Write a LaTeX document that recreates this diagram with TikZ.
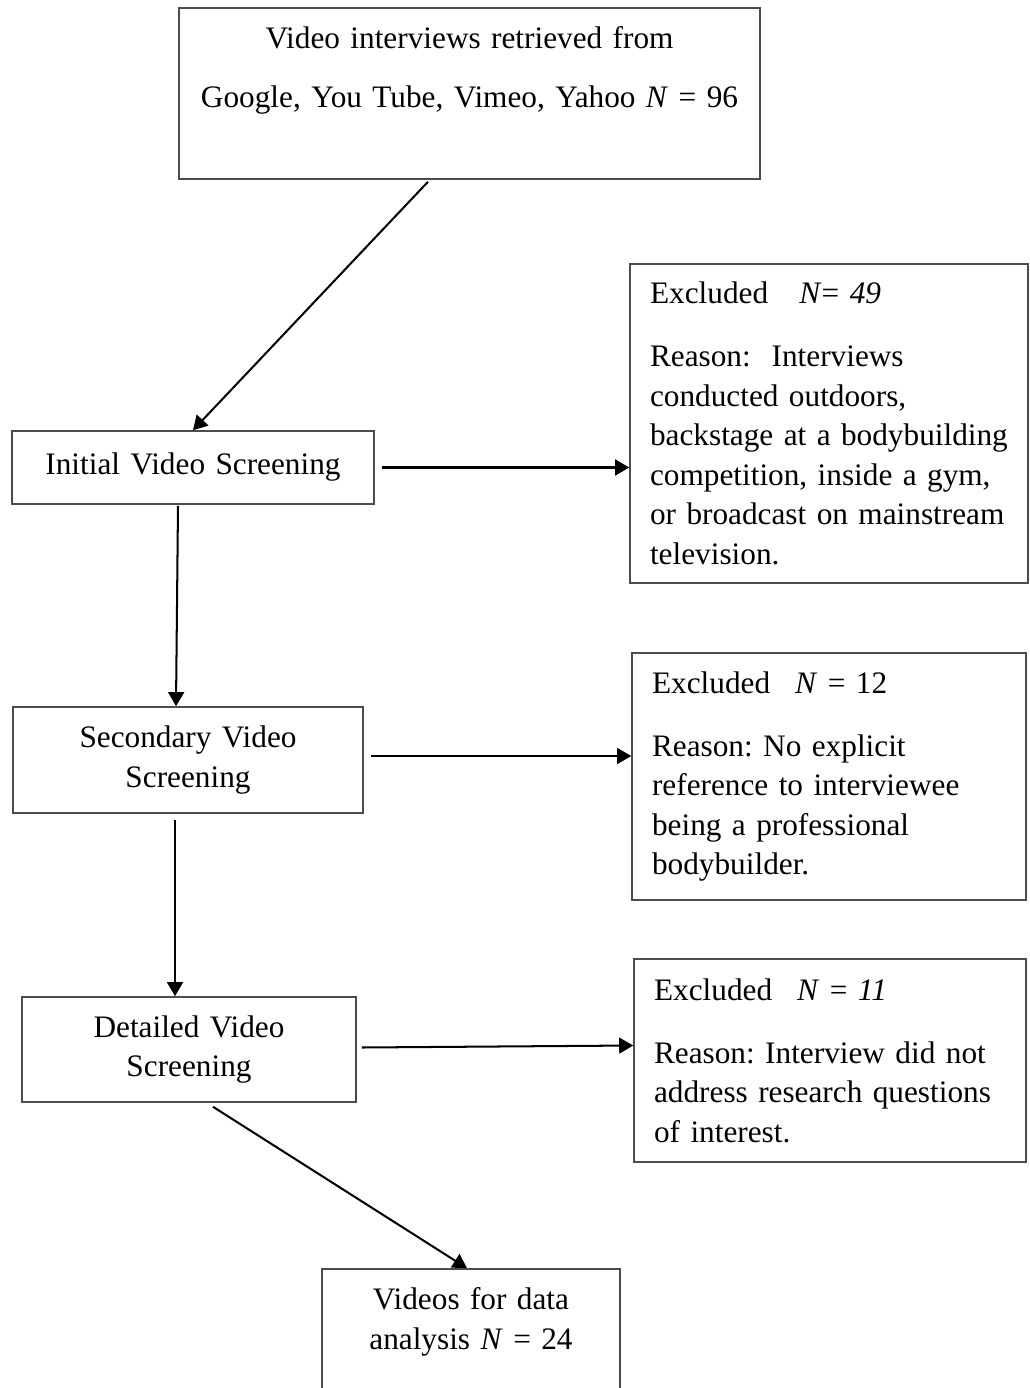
\documentclass[tikz,border=0pt]{standalone}
\usepackage{fontspec}
\setmainfont{Liberation Serif}
\usetikzlibrary{arrows.meta,calc}
\newcommand{\flowfont}{\fontsize{17.8pt}{22.5pt}\selectfont\frenchspacing}
\tikzset{
  box/.style={draw=black!70,line width=0.9pt,inner sep=0pt,align=center,font=\flowfont},
  excluded/.style={box,align=left,inner xsep=0.4cm},
  flow/.style={-{Triangle[length=8pt,width=9pt]},line width=1.15pt},
}
\begin{document}
\begin{tikzpicture}[x=0.02cm,y=-0.02cm]
  \path[use as bounding box] (0,0) rectangle (1029,1388);

  % main column
  \node[box,text width=11.62cm,minimum height=3.42cm,font=\fontsize{17.8pt}{33.6pt}\selectfont] (top) at (469.5,93.5)
    {Video interviews retrieved from\\Google, You Tube, Vimeo, Yahoo \textit{N} = 96\\[-0.48cm]\strut};
  \node[box,text width=7.24cm,minimum height=1.46cm] (init) at (193,467.5)
    {Initial Video Screening};
  \node[box,text width=7.0cm,minimum height=2.12cm] (sec) at (188,760)
    {Secondary Video\\Screening};
  \node[box,text width=6.68cm,minimum height=2.10cm] (det) at (189,1049.5)
    {Detailed Video\\Screening};
  \node[box,text width=5.96cm,minimum height=2.82cm] (fin) at (471,1339.5)
    {Videos for data\\analysis \textit{N} = 24\\[-0.18cm]\strut};

  % exclusions
  \node[excluded,text width=7.16cm,minimum height=6.38cm] (exc1) at (829,423.5)
    {Excluded\hspace{1em}\textit{N}= \textit{49}\\[0.47cm]
     Reason:\ \ Interviews\\conducted outdoors,\\\mbox{backstage at a bodybuilding}\\
     competition, inside a gym,\\\mbox{or broadcast on mainstream}\\television.};
  \node[excluded,text width=7.08cm,minimum height=4.94cm] (exc2) at (829,776.5)
    {Excluded\hspace{0.8em}\textit{N} = 12\\[0.47cm]
     Reason: No explicit\\reference to interviewee\\being a professional\\bodybuilder.};
  \node[excluded,text width=7.04cm,minimum height=4.06cm] (exc3) at (830,1060.5)
    {Excluded\hspace{0.8em}\textit{N} = \textit{11}\\[0.47cm]
     Reason: Interview did not\\address research questions\\of interest.};

  \draw[flow] ($(top.south)+(-41.5,2)$) -- (init.north);
  \draw[flow] ($(init.east)+(7,0)$) -- (init.east -| exc1.west);
  \draw[flow] ($(init.south)+(-15,1)$) -- ($(sec.north)+(-12,0)$);
  \draw[flow] ($(sec.east)+(7,-4)$) -- ($(sec.east -| exc2.west)+(0,-4)$);
  \draw[flow] ($(sec.south)+(-13,6)$) -- ($(det.north)+(-14,0)$);
  \draw[flow] ($(det.east)+(5,-2)$) -- ($(det.east -| exc3.west)+(0,-4)$);
  \draw[flow] ($(det.south)+(24,4)$) -- ($(fin.north)+(-4,0)$);
\end{tikzpicture}
\end{document}
